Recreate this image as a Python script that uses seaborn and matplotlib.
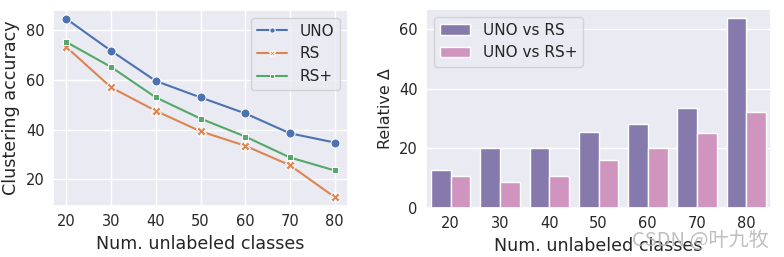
import numpy as np
import pandas as pd
import matplotlib
matplotlib.use('agg')
import matplotlib.pyplot as plt
import seaborn as sns

# datos
clases = [20, 30, 40, 50, 60, 70, 80]
acc_uno = [84.4, 71.6, 59.5, 52.9, 46.5, 38.5, 34.8]
acc_rs = [73.1, 56.9, 47.5, 39.3, 33.5, 25.7, 12.9]
acc_rs_plus = [75.1, 65.1, 52.9, 44.4, 37.2, 28.8, 23.6]

delta_rs = [12.8, 20.0, 20.0, 25.4, 28.4, 33.7, 63.7]
delta_rs_plus = [10.6, 8.9, 10.6, 16.1, 20.0, 25.2, 32.4]

sns.set_theme(style="darkgrid", rc={'xtick.labelsize': 10.5, 'ytick.labelsize': 10.5,
                                    'axes.labelsize': 12.6})
deep = sns.color_palette("deep")

# DataFrame largo para el grafico de lineas
df_acc = pd.DataFrame({
    'classes': clases * 3,
    'acc': acc_uno + acc_rs + acc_rs_plus,
    'method': ['UNO'] * 7 + ['RS'] * 7 + ['RS+'] * 7,
})

df_delta = pd.DataFrame({
    'classes': clases * 2,
    'delta': delta_rs + delta_rs_plus,
    'comp': ['UNO vs RS'] * 7 + ['UNO vs RS+'] * 7,
})

fig = plt.figure(figsize=(7.84, 2.57), dpi=100)
ax1 = fig.add_axes([53 / 784, 1 - 206 / 257, 295 / 784, 196 / 257])
ax2 = fig.add_axes([426 / 784, 1 - 208 / 257, 345 / 784, 199 / 257])

# Grafico izquierdo: precision de clustering
sns.lineplot(data=df_acc, x='classes', y='acc', hue='method', style='method',
             markers=True, dashes=False, markersize=6.5, ax=ax1)
ax1.set_xlabel('Num. unlabeled classes')
ax1.set_ylabel('Clustering accuracy')
ax1.set_xticks(clases)
ax1.legend(loc='upper right', markerscale=0.6)

# Grafico derecho: delta relativo
sns.barplot(data=df_delta, x='classes', y='delta', hue='comp',
            palette=[deep[4], deep[6]], ax=ax2)
ax2.set_xlabel('Num. unlabeled classes')
ax2.set_ylabel('Relative Δ', fontsize=11.5)
ax2.legend(loc='upper left')

for ax in (ax1, ax2):
    ax.tick_params(axis='both', length=0, pad=6)

# marca de agua
fig.text(632 / 784, 1 - 246 / 257, 'CSDN @叶九牧', fontsize=14.5, color='#b4b4b4',
         alpha=0.85, va='baseline', family=['Noto Sans CJK SC', 'DejaVu Sans'])

fig.savefig('out.png', dpi=100)
